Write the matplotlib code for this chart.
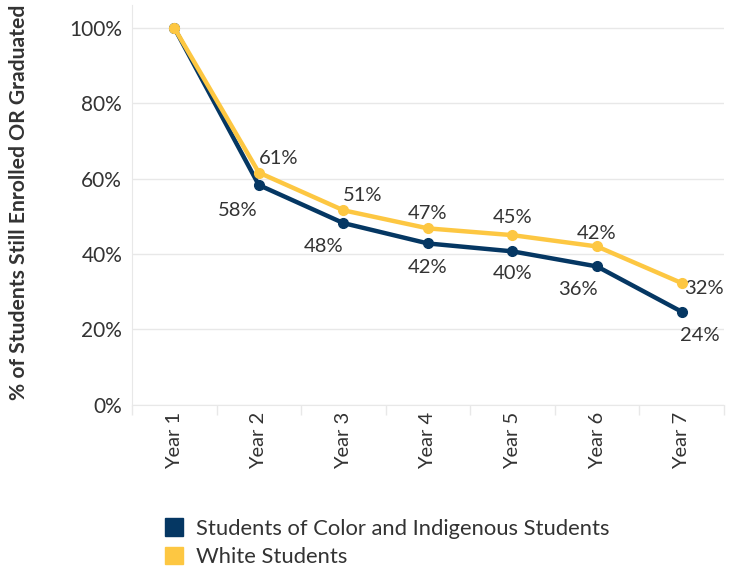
import numpy as np
import matplotlib.pyplot as plt
from matplotlib.patches import Patch

plt.rcParams['font.family'] = ['Lato', 'DejaVu Sans']

years = ["Year 1", "Year 2", "Year 3", "Year 4", "Year 5", "Year 6", "Year 7"]
poc = [1.00, 0.583, 0.482, 0.428, 0.407, 0.367, 0.247]
white = [1.00, 0.616, 0.516, 0.468, 0.450, 0.420, 0.323]
poc_lab = ["", "58%", "48%", "42%", "40%", "36%", "24%"]
white_lab = ["", "61%", "51%", "47%", "45%", "42%", "32%"]

navy = "#053763"
gold = "#FDC742"
txt = "#333333"
grid = "#e8e8e8"

fig = plt.figure(figsize=[7.29, 5.71], dpi=100)
ax = fig.add_axes([0.181, 0.291, 0.812, 0.700])

x = np.arange(len(years))
ax.plot(x, poc, color=navy, lw=3.2, marker="o", ms=7, zorder=3, solid_capstyle="round")
ax.plot(x, white, color=gold, lw=3.2, marker="o", ms=7, zorder=4, solid_capstyle="round")

# label offsets in pixels (dx, dy) relative to the point
poc_off = [None, (-21, -25), (-20, -23), (0, -24), (0, -22), (-19, -23), (18, -24)]
white_off = [None, (20, 14), (19, 15), (0, 15), (0, 18), (0, 13), (22, -5)]
for i in range(1, len(years)):
    ax.annotate(poc_lab[i], (x[i], poc[i]), xytext=poc_off[i], textcoords="offset pixels",
                ha="center", va="center", fontsize=14.5, color=txt)
    ax.annotate(white_lab[i], (x[i], white[i]), xytext=white_off[i], textcoords="offset pixels",
                ha="center", va="center", fontsize=14.5, color=txt)

ax.set_xlim(-0.5, len(years) - 0.5)
ax.set_ylim(0, 1.06)
ax.set_yticks(np.arange(0, 1.01, 0.2))
ax.set_yticklabels(["%d%%" % round(v * 100) for v in np.arange(0, 1.01, 0.2)])
ax.set_xticks(x)
ax.set_xticklabels(years, rotation=90)
ax.set_xticks(np.arange(-0.5, len(years)), minor=True)
ax.tick_params(axis="x", which="major", length=0, pad=5, labelsize=14.5, labelcolor=txt)
ax.tick_params(axis="x", which="minor", length=7, color=grid, width=1)
ax.tick_params(axis="y", length=0, labelsize=15, labelcolor=txt, pad=7)

ax.grid(axis="y", color=grid, lw=1)
ax.set_axisbelow(True)
for s in ["top", "right"]:
    ax.spines[s].set_visible(False)
for s in ["left", "bottom"]:
    ax.spines[s].set_color(grid)

fig.text(0.026, 0.645, "% of Students Still Enrolled OR Graduated", rotation=90,
         ha="center", va="center", fontsize=15.2, fontweight="bold", color=txt)

handles = [Patch(color=navy), Patch(color=gold)]
fig.legend(handles, ["Students of Color and Indigenous Students", "White Students"],
           loc="lower left", bbox_to_anchor=(0.199, -0.028), frameon=False, fontsize=15.8,
           handlelength=0.85, handleheight=0.85, handletextpad=0.55, labelspacing=0.38,
           labelcolor=txt)

fig.savefig("out.png", dpi=100)
